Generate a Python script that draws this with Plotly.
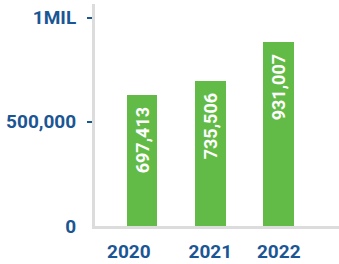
import plotly.graph_objects as go

years = ["2020", "2021", "2022"]
bar_heights = [628000, 695000, 882000]          # bar heights as drawn in the picture
bar_labels = ["697,413", "735,506", "931,007"]  # values printed on the bars
y_tick_vals = [0, 500000, 1000000]
y_tick_text = ["0", "500,000", "1MIL"]

BLUE = "#1b5694"
GREEN = "#63bb47"
GRID = "#dcdcdc"
FONT = "Roboto"

x_pos = list(range(len(years)))
label_shift = [-0.19, 0, 0]

fig = go.Figure()
fig.add_trace(go.Bar(
    x=x_pos, y=bar_heights, text=[l + "  " for l in bar_labels],
    width=0.447,
    marker=dict(color=GREEN, line=dict(width=0)),
    textposition="inside", insidetextanchor="end", textangle=-90,
    textfont=dict(family=FONT, size=18, color="white", weight="bold"),
    cliponaxis=False, hoverinfo="skip",
))

fig.update_layout(
    width=339, height=264,
    margin=dict(l=95, r=0, t=4, b=38, autoexpand=False),
    paper_bgcolor="white", plot_bgcolor="white",
    showlegend=False,
    bargap=0,
    xaxis=dict(
        range=[-0.684, 2.88],
        tickvals=[p + s for p, s in zip(x_pos, label_shift)],
        ticktext=years,
        showgrid=False, zeroline=False,
        showline=True, linecolor=GRID, linewidth=3,
        ticks="", ticklabelstandoff=6, automargin=False,
        tickfont=dict(family=FONT, size=19, color=BLUE, weight="bold"),
        fixedrange=True,
    ),
    yaxis=dict(
        range=[0, 1065000],
        tickvals=y_tick_vals, ticktext=y_tick_text,
        showgrid=False, zeroline=False,
        showline=True, linecolor=GRID, linewidth=3,
        ticks="", ticklabelstandoff=12, automargin=False,
        minor=dict(tickvals=[500000, 1000000], ticks="outside",
                   ticklen=5, tickwidth=2, tickcolor=BLUE),
        tickfont=dict(family=FONT, size=19, color=BLUE, weight="bold"),
        fixedrange=True,
    ),
)

fig.write_html(
    "out.html",
    config={"displayModeBar": False},
    post_script="document.body.style.margin='0';document.body.style.overflow='hidden';",
)
